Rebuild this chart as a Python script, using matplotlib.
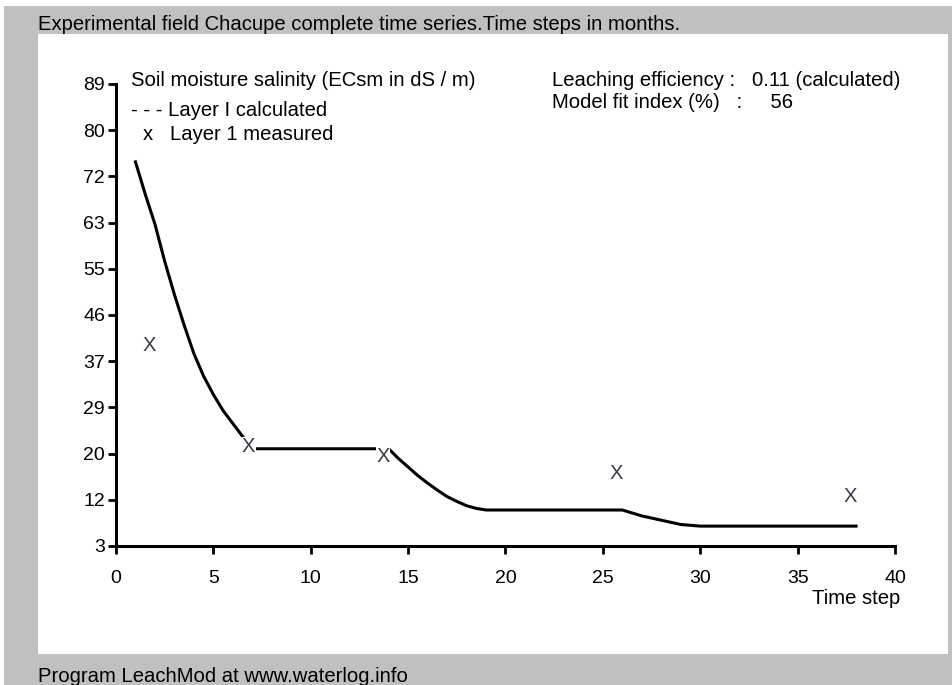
import numpy as np
import matplotlib.pyplot as plt
from matplotlib.patches import Rectangle

plt.rcParams['font.family'] = ['Liberation Sans', 'DejaVu Sans']

# calculated salinity of layer 1 (time in months)
time_steps = [1, 1.5, 2, 2.5, 3, 3.5, 4, 4.5, 5, 5.5, 6, 6.5, 7, 8, 9, 10,
              11, 12, 13, 14, 14.5, 15, 15.5, 16, 16.5, 17, 17.5, 18, 18.5, 19,
              20, 21, 22, 23, 24, 25, 26, 27, 28, 29, 30, 31, 32, 33, 34, 35,
              36, 37, 38]
ec_calc = [74.5, 68.5, 62.9, 56.0, 49.8, 44.1, 38.8, 34.6, 31.2, 28.2, 25.8, 23.4,
           21.1, 21.1, 21.1, 21.1, 21.1, 21.1, 21.1, 21.1, 19.3, 17.7, 16.1,
           14.7, 13.4, 12.2, 11.3, 10.5, 10.0, 9.7,
           9.7, 9.7, 9.7, 9.7, 9.7, 9.7, 9.7, 8.6, 7.8, 7.0, 6.7, 6.7, 6.7, 6.7,
           6.7, 6.7, 6.7, 6.7, 6.7]

# measured salinity of layer 1
meas_t = [1.7, 6.8, 13.7, 25.7, 37.7]
meas_ec = [40.4, 21.5, 19.6, 16.5, 12.3]

x_ticks = [0, 5, 10, 15, 20, 25, 30, 35, 40]
y_ticks = np.linspace(3, 89, 11)
y_labels = ['3', '12', '20', '29', '37', '46', '55', '63', '72', '80', '89']

W, H = 953, 685
fig = plt.figure(figsize=(W / 100, H / 100), dpi=100)
fig.patch.set_facecolor('#c0c0c0')

# window edges and white drawing panel
fig.patches.append(Rectangle((0, 1 - 6 / H), 1, 6 / H, transform=fig.transFigure,
                             facecolor='white', edgecolor='none', zorder=-2))
fig.patches.append(Rectangle((0, 0), 4 / W, 1, transform=fig.transFigure,
                             facecolor='white', edgecolor='none', zorder=-2))
fig.patches.append(Rectangle((38 / W, 1 - 654 / H), 910 / W, 620 / H,
                             transform=fig.transFigure, facecolor='white',
                             edgecolor='none', zorder=-2))

ax = fig.add_axes([116 / W, 1 - 546 / H, 779 / W, 462 / H])
ax.set_zorder(1)
ax.set_facecolor('none')
ax.set_xlim(0, 40)
ax.set_ylim(3, 89)
for s in ['top', 'right']:
    ax.spines[s].set_visible(False)
for s in ['left', 'bottom']:
    ax.spines[s].set_linewidth(2.2)
ax.set_xticks(x_ticks)
ax.set_yticks(y_ticks)
ax.set_yticklabels(y_labels)
ax.tick_params(axis='both', width=2, length=6, labelsize=14, color='black')
ax.tick_params(axis='y', pad=2)
ax.tick_params(axis='x', pad=11)

ax.plot(time_steps, ec_calc, color='black', lw=2.2, zorder=2)
for t, v in zip(meas_t, meas_ec):
    ax.text(t, v, 'X', ha='center', va='center', fontsize=14.5, color='#3a3a48',
            bbox=dict(facecolor='white', edgecolor='none', pad=0.5), zorder=3)

fs = 14.6
fig.text(38 / W, 1 - 25 / H, 'Experimental field Chacupe complete time series.Time steps in months.',
         fontsize=fs, va='center', ha='left')
fig.text(131 / W, 1 - 80 / H, 'Soil moisture salinity (ECsm in dS / m)', fontsize=fs, va='center')
fig.text(131 / W, 1 - 110 / H, '- - - Layer I calculated', fontsize=fs, va='center')
fig.text(143 / W, 1 - 134 / H, 'x   Layer 1 measured', fontsize=fs, va='center')
fig.text(552 / W, 1 - 80 / H, 'Leaching efficiency :   0.11 (calculated)', fontsize=fs, va='center')
fig.text(552 / W, 1 - 103 / H, 'Model fit index (%)   :     56', fontsize=fs, va='center')
fig.text(900 / W, 1 - 599 / H, 'Time step', fontsize=fs, va='center', ha='right')
fig.text(38 / W, 1 - 677 / H, 'Program LeachMod at www.waterlog.info', fontsize=fs, va='center')

fig.savefig('out.png', dpi=100, facecolor=fig.get_facecolor())
